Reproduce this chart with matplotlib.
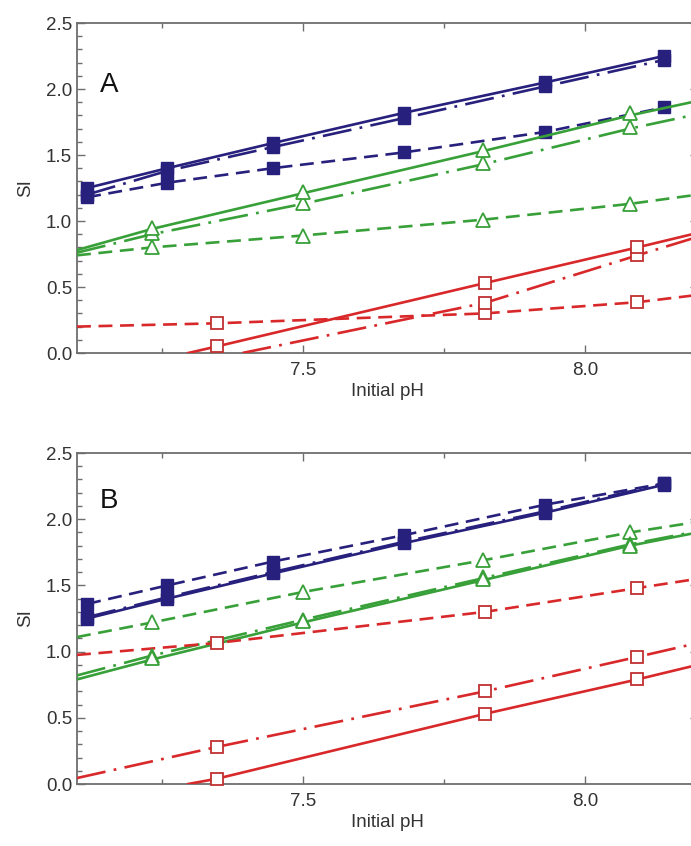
import matplotlib
matplotlib.use("Agg")
import matplotlib.pyplot as plt
from matplotlib.ticker import MultipleLocator, FixedLocator

plt.rcParams['font.family'] = ['Liberation Sans', 'DejaVu Sans']
plt.rcParams['lines.scale_dashes'] = False

# ---------------- data ----------------
pH_blue = [7.118, 7.26, 7.447, 7.68, 7.93, 8.14]
pH_green = [7.233, 7.50, 7.82, 8.08]
pH_red = [7.348, 7.823, 8.093]

# Panel A
A_blue_solid = [1.25, 1.40, 1.59, 1.82, 2.05, 2.25]
A_blue_dashdot = [1.20, 1.38, 1.56, 1.78, 2.02, 2.22]
A_blue_dashed = [1.18, 1.29, 1.40, 1.52, 1.675, 1.86]

A_green_solid_line_x = [7.10, 7.233, 7.50, 7.82, 8.08, 8.20]
A_green_solid_line_y = [0.78, 0.94, 1.21, 1.53, 1.80, 1.91]
A_green_solid = [0.95, 1.22, 1.54, 1.82]
A_green_dashdot_line_x = [7.10, 7.233, 7.50, 7.82, 8.08, 8.20]
A_green_dashdot_line_y = [0.76, 0.90, 1.13, 1.43, 1.70, 1.81]
A_green_dashdot = [0.91, 1.14, 1.44, 1.71]
A_green_dashed_line_x = [7.10, 7.233, 7.50, 7.82, 8.08, 8.20]
A_green_dashed_line_y = [0.74, 0.80, 0.89, 1.01, 1.13, 1.20]
A_green_dashed = [0.80, 0.89, 1.01, 1.13]

A_red_solid_line_x = [7.297, 7.348, 7.823, 8.093, 8.20]
A_red_solid_line_y = [0.00, 0.05, 0.53, 0.80, 0.91]
A_red_solid = [0.05, 0.53, 0.80]
A_red_dashdot_line_x = [7.393, 7.823, 8.093, 8.20]
A_red_dashdot_line_y = [0.00, 0.38, 0.74, 0.88]
A_red_dashdot = [0.38, 0.74]
A_red_dashed_line_x = [7.10, 7.348, 7.823, 8.093, 8.20]
A_red_dashed_line_y = [0.20, 0.225, 0.30, 0.385, 0.44]
A_red_dashed = [0.225, 0.30, 0.385]

# Panel B
B_blue_solid = [1.25, 1.40, 1.59, 1.82, 2.05, 2.26]
B_blue_dashdot = [1.26, 1.41, 1.60, 1.83, 2.06, 2.27]
B_blue_dashed = [1.36, 1.50, 1.68, 1.88, 2.11, 2.27]

B_green_dashed_line_x = [7.10, 7.233, 7.50, 7.82, 8.08, 8.20]
B_green_dashed_line_y = [1.11, 1.22, 1.45, 1.69, 1.90, 1.98]
B_green_dashed = [1.22, 1.45, 1.69, 1.90]
B_green_solid_line_x = [7.10, 7.233, 7.50, 7.82, 8.08, 8.20]
B_green_solid_line_y = [0.79, 0.94, 1.22, 1.54, 1.80, 1.90]
B_green_solid = [0.95, 1.23, 1.55, 1.80]
B_green_dashdot_line_x = [7.10, 7.233, 7.50, 7.82, 8.08, 8.20]
B_green_dashdot_line_y = [0.82, 0.97, 1.24, 1.555, 1.81, 1.91]
B_green_dashdot = [0.97, 1.24, 1.56, 1.81]

B_red_dashed_line_x = [7.10, 7.348, 7.823, 8.093, 8.20]
B_red_dashed_line_y = [0.975, 1.065, 1.30, 1.48, 1.55]
B_red_dashed = [1.065, 1.30, 1.48]
B_red_dashdot_line_x = [7.10, 7.348, 7.823, 8.093, 8.20]
B_red_dashdot_line_y = [0.045, 0.28, 0.70, 0.96, 1.065]
B_red_dashdot = [0.28, 0.70, 0.96]
B_red_solid_line_x = [7.297, 7.348, 7.823, 8.093, 8.20]
B_red_solid_line_y = [0.00, 0.04, 0.53, 0.79, 0.90]
B_red_solid = [0.04, 0.53, 0.79]

x_major = [7.5, 8.0]
x_minor = [7.25, 7.75]
x_ticklabels = ["7.5", "8.0"]

# ---------------- styling ----------------
BLUE = '#27207c'
GREEN = '#38a038'
RED = '#d8282a'
RED_EDGE = '#c03030'
SPINE = '#6e6e6e'
TXT = '#333333'

LW = 1.9
SOLID = '-'
DASHED = (0, (10, 5.5))
DASHDOT = (0, (21, 6, 2, 6))

fig = plt.figure(figsize=(6.91, 8.46), dpi=100)
W, H = 691.0, 846.0
x_left_px, x_right_px = 77.0, 697.8
axA = fig.add_axes([x_left_px / W, 1 - 353 / H, (x_right_px - x_left_px) / W, 330 / H])
axB = fig.add_axes([x_left_px / W, 1 - 784 / H, (x_right_px - x_left_px) / W, 331 / H])


def blue_series(ax, y, ls, z=3):
    ax.plot(pH_blue, y, color=BLUE, lw=LW, ls=ls, marker='s', ms=8.5,
            mfc=BLUE, mec=BLUE, zorder=z, clip_on=False)


def open_series(ax, lx, ly, mx, my, color, mec, marker, ls, ms=8.5, z=3):
    ax.plot(lx, ly, color=color, lw=LW, ls=ls, zorder=z, clip_on=True)
    ax.plot(mx, my, ls='none', marker=marker, ms=ms, mfc='white', mec=mec,
            mew=1.3, zorder=z + 1, clip_on=False)


TRI = 10

# Panel A
blue_series(axA, A_blue_dashed, DASHED)
blue_series(axA, A_blue_dashdot, DASHDOT)
blue_series(axA, A_blue_solid, SOLID)
open_series(axA, A_green_dashed_line_x, A_green_dashed_line_y, pH_green, A_green_dashed, GREEN, GREEN, '^', DASHED, ms=TRI)
open_series(axA, A_green_dashdot_line_x, A_green_dashdot_line_y, pH_green, A_green_dashdot, GREEN, GREEN, '^', DASHDOT, ms=TRI)
open_series(axA, A_green_solid_line_x, A_green_solid_line_y, pH_green, A_green_solid, GREEN, GREEN, '^', SOLID, ms=TRI)
open_series(axA, A_red_dashed_line_x, A_red_dashed_line_y, pH_red, A_red_dashed, RED, RED_EDGE, 's', DASHED, ms=8)
open_series(axA, A_red_dashdot_line_x, A_red_dashdot_line_y, pH_red[1:], A_red_dashdot, RED, RED_EDGE, 's', DASHDOT, ms=8)
open_series(axA, A_red_solid_line_x, A_red_solid_line_y, pH_red, A_red_solid, RED, RED_EDGE, 's', SOLID, ms=8)

# Panel B
blue_series(axB, B_blue_dashed, DASHED)
blue_series(axB, B_blue_dashdot, DASHDOT)
blue_series(axB, B_blue_solid, SOLID)
open_series(axB, B_green_dashed_line_x, B_green_dashed_line_y, pH_green, B_green_dashed, GREEN, GREEN, '^', DASHED, ms=TRI)
open_series(axB, B_green_dashdot_line_x, B_green_dashdot_line_y, pH_green, B_green_dashdot, GREEN, GREEN, '^', DASHDOT, ms=TRI)
open_series(axB, B_green_solid_line_x, B_green_solid_line_y, pH_green, B_green_solid, GREEN, GREEN, '^', SOLID, ms=TRI)
open_series(axB, B_red_dashed_line_x, B_red_dashed_line_y, pH_red, B_red_dashed, RED, RED_EDGE, 's', DASHED, ms=8)
open_series(axB, B_red_dashdot_line_x, B_red_dashdot_line_y, pH_red, B_red_dashdot, RED, RED_EDGE, 's', DASHDOT, ms=8)
open_series(axB, B_red_solid_line_x, B_red_solid_line_y, pH_red, B_red_solid, RED, RED_EDGE, 's', SOLID, ms=8)

for ax, letter, ly in [(axA, 'A', 1.98), (axB, 'B', 2.085)]:
    ax.set_xlim(7.1, 8.2)
    ax.set_ylim(0.0, 2.5)
    ax.xaxis.set_major_locator(FixedLocator(x_major))
    ax.set_xticklabels(x_ticklabels)
    ax.xaxis.set_minor_locator(FixedLocator(x_minor))
    ax.yaxis.set_major_locator(MultipleLocator(0.5))
    ax.yaxis.set_minor_locator(MultipleLocator(0.1))
    ax.yaxis.set_major_formatter(matplotlib.ticker.FormatStrFormatter('%.1f'))
    ax.tick_params(which='both', direction='in', top=True, right=True,
                   color=SPINE, labelcolor=TXT, labelsize=13.5, width=1.0)
    ax.tick_params(which='major', length=5.5)
    ax.tick_params(which='minor', length=3.3)
    ax.tick_params(axis='x', which='major', pad=6.5)
    ax.tick_params(axis='y', which='major', pad=3.5)
    for s in ax.spines.values():
        s.set_color(SPINE)
        s.set_linewidth(1.3)
    ax.set_xlabel('Initial pH', fontsize=13.5, color=TXT, labelpad=3)
    ax.set_ylabel('SI', fontsize=13.5, color=TXT, labelpad=8.5)
    ax.text(7.141, ly, letter, fontsize=20, color='#111111', ha='left', va='baseline')

fig.savefig('out.png', dpi=100)
